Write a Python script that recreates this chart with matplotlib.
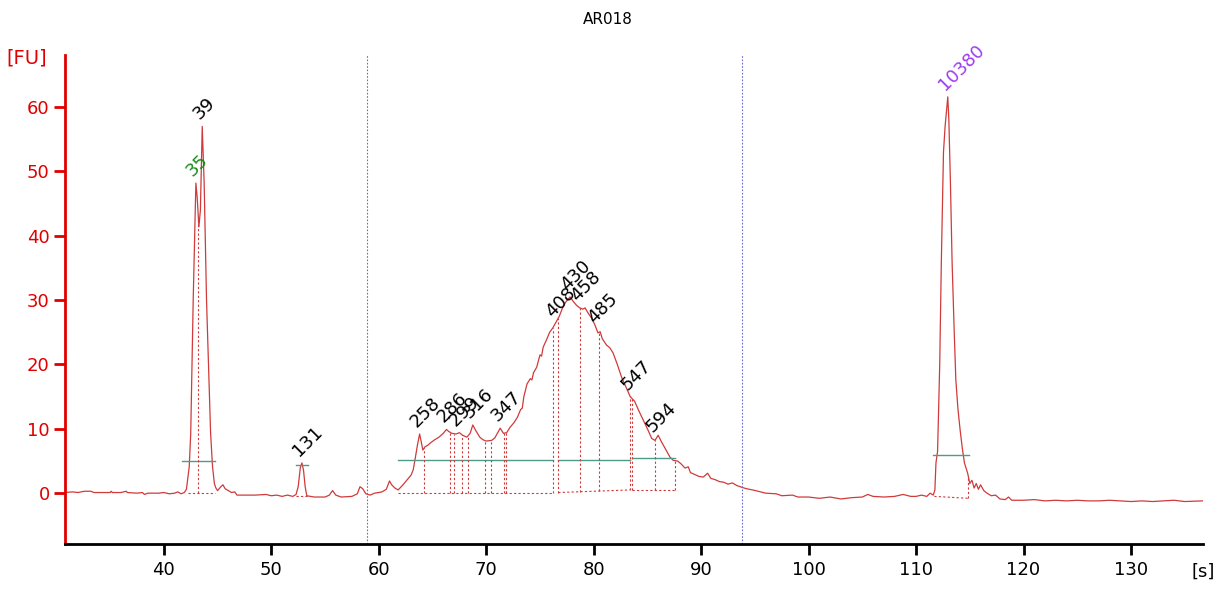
import numpy as np
import matplotlib.pyplot as plt

# electropherogram trace
time_s = [30.8, 31.5, 32.0, 32.6, 33.2, 33.5, 34.5, 35.0, 35.1, 35.2, 36.0, 36.5, 36.6, 37.5,
          38.0, 38.2, 38.5, 39.5, 40.0, 40.5, 41.0, 41.3, 41.6, 41.9, 42.1, 42.36, 42.5, 42.73,
          42.98, 43.1, 43.26, 43.4, 43.57, 43.75, 43.97, 44.15, 44.35, 44.53, 44.7, 44.84,
          45.0, 45.3, 45.5, 45.7, 46.0, 46.3, 46.6, 46.8, 47.5, 48.5, 49.5, 50.0, 50.5, 51.0,
          51.5, 52.0, 52.3, 52.5, 52.7, 52.85, 53.0, 53.15, 53.3, 54.0, 55.0, 55.4, 55.7, 56.0,
          56.5, 57.5, 58.0, 58.25, 58.5, 58.8, 59.2, 59.6, 60.0, 60.3, 60.7, 61.0, 61.2, 61.5,
          61.8, 62.2, 62.6, 63.0, 63.2, 63.4, 63.6, 63.8, 63.95, 64.1, 64.3, 64.6, 64.8, 65.2,
          65.6, 66.0, 66.3, 66.5, 66.8, 67.2, 67.5, 67.8, 68.2, 68.5, 68.75, 69.0, 69.4, 69.7,
          70.0, 70.5, 70.8, 71.1, 71.3, 71.6, 71.9, 72.2, 72.6, 72.9, 73.2, 73.35, 73.5, 73.8,
          74.1, 74.25, 74.4, 74.7, 75.0, 75.15, 75.3, 75.6, 75.9, 76.2, 76.5, 76.8, 77.1, 77.4,
          77.8, 78.1, 78.4, 78.7, 79.0, 79.2, 79.4, 79.8, 80.1, 80.4, 80.6, 80.8, 81.2, 81.5,
          81.8, 82.2, 82.6, 83.0, 83.4, 83.8, 84.2, 84.6, 85.0, 85.4, 85.7, 86.0, 86.3, 86.7,
          87.1, 87.4, 87.8, 88.1, 88.5, 88.8, 89.0, 89.4, 89.8, 90.2, 90.6, 90.9, 91.3, 91.7,
          92.1, 92.5, 92.9, 93.3, 93.8, 94.2, 94.8, 95.3, 96.0, 97.0, 97.5, 98.5, 99.0, 100.0,
          101.0, 102.0, 103.0, 104.0, 105.0, 105.5, 106.0, 107.0, 108.0, 108.8, 109.5, 110.0,
          110.5, 111.0, 111.3, 111.6, 111.75, 111.85, 112.0, 112.2, 112.35, 112.55, 112.7,
          112.95, 113.05, 113.2, 113.35, 113.55, 113.7, 113.9, 114.1, 114.3, 114.5, 114.8,
          115.0, 115.2, 115.4, 115.6, 115.8, 116.0, 116.3, 116.6, 117.0, 117.4, 117.8, 118.3,
          118.6, 118.9, 119.5, 120.0, 121.0, 122.0, 123.0, 124.0, 125.0, 126.0, 127.0, 128.0,
          129.0, 130.0, 131.0, 132.0, 133.0, 134.0, 135.0, 136.7]
fu = [0.1, 0.2, 0.1, 0.3, 0.3, 0.1, 0.1, 0.1, 0.3, 0.1, 0.1, 0.3, 0.1, 0.0,
      0.1, -0.2, 0.0, 0.0, 0.1, -0.1, 0.0, 0.2, -0.1, 0.1, 0.6, 4.1, 9.3, 30.0,
      48.2, 46.0, 41.4, 44.0, 57.0, 48.2, 30.0, 20.0, 9.3, 4.1, 1.5, 0.8,
      0.4, 1.0, 1.3, 0.7, 0.4, 0.1, 0.2, -0.3, -0.3, -0.3, -0.2, -0.4, -0.3, -0.5,
      -0.3, -0.5, -0.2, 1.0, 4.0, 4.7, 3.5, 1.0, -0.4, -0.6, -0.6, -0.3, 0.4, -0.3,
      -0.6, -0.5, -0.1, 1.0, 0.7, -0.1, -0.3, 0.0, 0.1, 0.2, 0.6, 1.9, 1.3, 0.8,
      0.5, 1.2, 2.0, 2.8, 3.6, 5.5, 7.5, 9.2, 8.0, 6.7, 7.2, 7.5, 7.8, 8.3,
      8.7, 9.3, 9.9, 9.6, 9.3, 9.2, 9.4, 9.0, 8.7, 9.3, 10.6, 9.8, 8.7, 8.3,
      8.1, 8.2, 8.6, 9.5, 10.1, 9.3, 9.4, 10.2, 11.0, 11.8, 13.0, 13.2, 15.0, 17.0,
      17.8, 17.6, 18.7, 19.6, 21.5, 21.3, 22.7, 23.8, 25.0, 25.7, 26.6, 27.5, 28.8, 29.7,
      30.5, 29.8, 29.2, 28.8, 28.6, 28.8, 28.2, 27.2, 26.2, 24.9, 25.1, 24.0, 23.0, 22.6,
      21.8, 20.0, 18.0, 16.5, 15.0, 14.3, 12.8, 11.4, 10.0, 8.5, 8.2, 9.0, 8.0, 6.8,
      5.6, 5.1, 5.0, 4.6, 3.9, 4.1, 3.2, 2.9, 2.6, 2.5, 3.1, 2.3, 2.1, 1.8,
      1.7, 1.4, 1.6, 1.2, 0.9, 0.7, 0.5, 0.3, 0.0, -0.1, -0.4, -0.3, -0.6, -0.6,
      -0.8, -0.6, -0.9, -0.7, -0.6, -0.2, -0.5, -0.6, -0.5, -0.2, -0.5, -0.5,
      -0.3, -0.5, 0.0, -0.3, 0.5, 4.7, 6.5, 20.0, 36.0, 53.0, 57.0,
      61.6, 58.0, 48.0, 36.0, 25.0, 17.6, 13.0, 9.8, 7.0, 4.7, 3.1,
      1.5, 2.0, 0.8, 1.5, 0.6, 1.3, 0.4, 0.0, -0.4, -0.3, -0.9, -1.0,
      -0.6, -1.1, -1.1, -1.1, -1.0, -1.2, -1.1, -1.2, -1.1, -1.2, -1.2, -1.1,
      -1.2, -1.3, -1.2, -1.3, -1.2, -1.1, -1.3, -1.2]

# peak labels
peak_t = [42.98, 43.57, 52.85, 63.8, 66.3, 67.4, 68.75, 71.3, 76.4, 77.8, 78.7, 80.3, 83.4, 85.8, 112.95]
peak_lbl = ['35', '39', '131', '258', '286', '299', '316', '347', '408', '430', '458', '485', '547', '594', '10380']

# peak boundaries (dashed red) and baselines
bound_t = [43.22, 64.24, 66.63, 67.0, 67.77, 68.33, 69.89, 70.42, 71.66, 71.84, 76.18, 76.7,
           78.75, 80.46, 83.39, 83.6, 85.72, 87.6, 114.85]
base_t0 = [42.2, 52.3, 61.8, 76.7, 83.6, 111.7]
base_t1 = [44.8, 53.4, 76.18, 83.39, 87.6, 114.85]
base_y0 = [0.1, -0.5, 0.1, 0.1, 0.5, -0.5]
base_y1 = [0.1, -0.5, 0.1, 0.5, 0.5, -0.8]
green_t0 = [41.7, 52.3, 61.8, 76.7, 83.6, 111.6]
green_t1 = [44.8, 53.4, 76.18, 83.39, 87.6, 114.9]
green_y = [5.0, 4.4, 5.1, 5.1, 5.4, 5.9]

markers_t = [58.9, 93.8]

RED = '#e00000'
TRACE = '#d03a3a'

fig = plt.figure(figsize=(12.16, 5.92), dpi=100)
ax = fig.add_axes([65/1216, 48/592, 1138/1216, 489/592])

ax.plot(time_s, fu, color=TRACE, lw=0.9)

for t0, t1, y0, y1 in zip(base_t0, base_t1, base_y0, base_y1):
    ax.plot([t0, t1], [y0, y1], color=TRACE, lw=0.8, ls=(0, (2, 2)))
for t0, t1, y in zip(green_t0, green_t1, green_y):
    ax.plot([t0, t1], [y, y], color='#4f9a8a', lw=1.0)

def base_at(t):
    for t0, t1, y0, y1 in zip(base_t0, base_t1, base_y0, base_y1):
        if t0 - 0.01 <= t <= t1 + 0.01:
            return y0 + (y1 - y0) * (t - t0) / (t1 - t0)
    return 0.0

for t in bound_t:
    ax.plot([t, t], [base_at(t), np.interp(t, time_s, fu)], color=TRACE, lw=0.8, ls=(0, (2, 2)))

for t in markers_t:
    ax.axvline(t, color='#6a6ad0', lw=0.8, ls=(0, (1.5, 1.5)))

for t, lbl in zip(peak_t, peak_lbl):
    col = '#1a8a1a' if lbl == '35' else ('#9b3cf0' if lbl == '10380' else 'black')
    ax.annotate(lbl, (t, np.interp(t, time_s, fu)), xytext=(-3, 6), textcoords='offset pixels',
                rotation=45, rotation_mode='anchor', ha='left', va='baseline',
                fontsize=13, color=col)

ax.set_xlim(30.8, 136.7)
ax.set_ylim(-7.9, 68.1)
ax.set_xticks(range(40, 131, 10))
ax.set_yticks(range(0, 61, 10))
for s in ['top', 'right']:
    ax.spines[s].set_visible(False)
ax.spines['left'].set_color(RED)
ax.spines['left'].set_linewidth(2)
ax.spines['bottom'].set_linewidth(2)
ax.tick_params(axis='y', colors=RED, labelsize=13, length=8, width=2, pad=3)
ax.tick_params(axis='x', colors='black', labelsize=13, length=8, width=2, pad=4)

fig.text(0.5, 1 - 20/592, 'AR018', ha='center', va='center', fontsize=11)
fig.text(27/1216, 1 - 58/592, '[FU]', ha='center', va='center', fontsize=14, color=RED)
fig.text(1203/1216, 1 - 572/592, '[s]', ha='center', va='center', fontsize=13)

fig.savefig('out.png', dpi=100)
